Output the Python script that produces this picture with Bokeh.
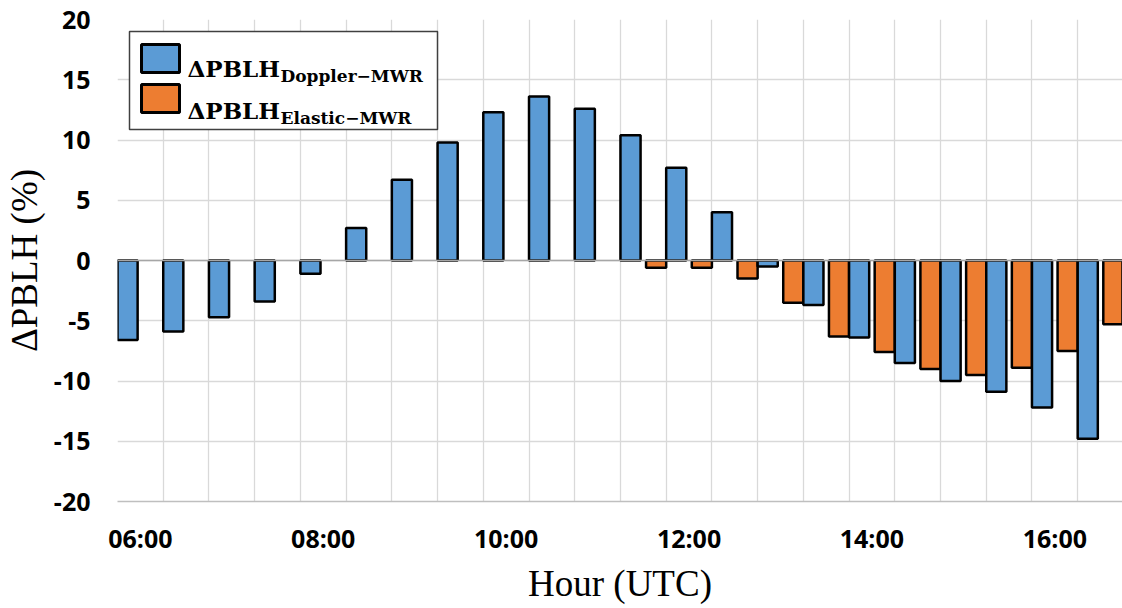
import numpy as np
from bokeh.plotting import figure
from bokeh.models import FixedTicker, Range1d, Span, Label, ColumnDataSource
from bokeh.transform import dodge
from bokeh.embed import file_html
from bokeh.resources import INLINE

nan = float("nan")

# half-hour time bins (decimal hours, UTC)
hours = [5.75, 6.25, 6.75, 7.25, 7.75, 8.25, 8.75, 9.25, 9.75, 10.25, 10.75, 11.25,
         11.75, 12.25, 12.75, 13.25, 13.75, 14.25, 14.75, 15.25, 15.75, 16.25, 16.75]
doppler_mwr = [-6.6, -5.9, -4.7, -3.4, -1.1, 2.7, 6.7, 9.8, 12.3, 13.6, 12.6, 10.4,
               7.7, 4.0, -0.5, -3.7, -6.4, -8.5, -10.0, -10.9, -12.2, -14.8, nan]
elastic_mwr = [nan, nan, nan, nan, nan, nan, nan, nan, nan, nan, nan, nan,
               -0.6, -0.6, -1.5, -3.5, -6.3, -7.6, -9.0, -9.5, -8.9, -7.5, -5.3]

x_tick_values = [6, 8, 10, 12, 14, 16]
x_tick_labels = ["06:00", "08:00", "10:00", "12:00", "14:00", "16:00"]
y_tick_values = [-20, -15, -10, -5, 0, 5, 10, 15, 20]
y_tick_labels = ["-20", "-15", "-10", "-5", "0", "5", "10", "15", "20"]

BLUE = "#5B9BD5"
ORANGE = "#ED7D31"

X0, X1 = 5.75, 16.74
Y0, Y1 = -20, 20

W, H = 1122, 608
ML, MT, MB, MR = 117, 19, 107, 0
FW = W - ML - MR
FH = H - MT - MB

p = figure(width=W, height=H, output_backend="svg", toolbar_location=None,
           x_range=Range1d(X0, X1), y_range=Range1d(Y0, Y1),
           min_border_left=ML, min_border_top=MT, min_border_bottom=MB,
           min_border_right=MR)
p.outline_line_color = None
p.background_fill_color = "white"

src = ColumnDataSource(dict(x=np.array(hours), d=np.array(doppler_mwr, dtype=float),
                            e=np.array(elastic_mwr, dtype=float)))

bw = 0.22
p.vbar(x=dodge("x", -bw / 2, range=p.x_range), top="e", bottom=0, width=bw, source=src,
       fill_color=ORANGE, line_color="black", line_width=2.5)
p.vbar(x=dodge("x", bw / 2, range=p.x_range), top="d", bottom=0, width=bw, source=src,
       fill_color=BLUE, line_color="black", line_width=2.5)

p.add_layout(Span(location=0, dimension="width", line_color="#a6a6a6", line_width=1.5,
                  level="overlay"))

# grids
p.xgrid.ticker = FixedTicker(ticks=hours)
p.ygrid.ticker = FixedTicker(ticks=y_tick_values)
p.xgrid.grid_line_color = "#d9d9d9"
p.ygrid.grid_line_color = "#d9d9d9"
p.xgrid.grid_line_width = 1.3
p.ygrid.grid_line_width = 1.3

# axes
tick_font = "Open Sans"
p.xaxis.ticker = FixedTicker(ticks=x_tick_values)
p.xaxis.major_label_overrides = {v: l for v, l in zip(x_tick_values, x_tick_labels)}
p.yaxis.ticker = FixedTicker(ticks=y_tick_values)
p.yaxis.major_label_overrides = {v: l for v, l in zip(y_tick_values, y_tick_labels)}
for ax in (p.xaxis, p.yaxis):
    ax.major_tick_line_color = None
    ax.minor_tick_line_color = None
    ax.major_tick_out = 0
    ax.major_tick_in = 0
    ax.minor_tick_out = 0
    ax.minor_tick_in = 0
    ax.major_label_text_font = tick_font
    ax.major_label_text_font_style = "bold"
    ax.major_label_text_font_size = "25px"
    ax.major_label_text_color = "black"
    ax.axis_label_text_font = "Liberation Serif"
    ax.axis_label_text_font_style = "normal"
    ax.axis_label_text_font_size = "37px"
    ax.axis_label_text_color = "black"
p.xaxis.axis_line_color = "#bfbfbf"
p.xaxis.axis_line_width = 1.3
p.yaxis.axis_line_color = None
p.xaxis.major_label_standoff = 19
p.yaxis.major_label_standoff = 27
p.xaxis.axis_label_standoff = 5
p.yaxis.axis_label_standoff = 6
p.xaxis.axis_label = "Hour (UTC)"
p.yaxis.axis_label = "ΔPBLH (%)"

# legend drawn by hand (needs subscripts); positions given in picture pixels
def dx(px):
    return X0 + (px - ML) * (X1 - X0) / FW

def dy(py):
    return Y1 - (py - MT) * (Y1 - Y0) / FH

p.quad(left=[dx(129)], right=[dx(437)], top=[dy(31)], bottom=[dy(129)],
       fill_color="white", line_color="#404040", line_width=1.5)
p.quad(left=[dx(141)], right=[dx(179)], top=[dy(44)], bottom=[dy(72)],
       fill_color=BLUE, line_color="black", line_width=3)
p.quad(left=[dx(141)], right=[dx(179)], top=[dy(84)], bottom=[dy(112)],
       fill_color=ORANGE, line_color="black", line_width=3)

legend_rows = [("Doppler−MWR", 68, 75), ("Elastic−MWR", 110, 117)]
for sub, base_main, base_sub in legend_rows:
    p.add_layout(Label(x=dx(187), y=dy(base_main), text="ΔPBLH",
                       text_font="DejaVu Serif", text_font_style="bold",
                       text_font_size="23px", text_baseline="alphabetic",
                       text_color="black"))
    p.add_layout(Label(x=dx(280), y=dy(base_sub), text=sub,
                       text_font="DejaVu Serif", text_font_style="bold",
                       text_font_size="17px", text_baseline="alphabetic",
                       text_color="black"))

open("out.html", "w").write(file_html(p, INLINE))
